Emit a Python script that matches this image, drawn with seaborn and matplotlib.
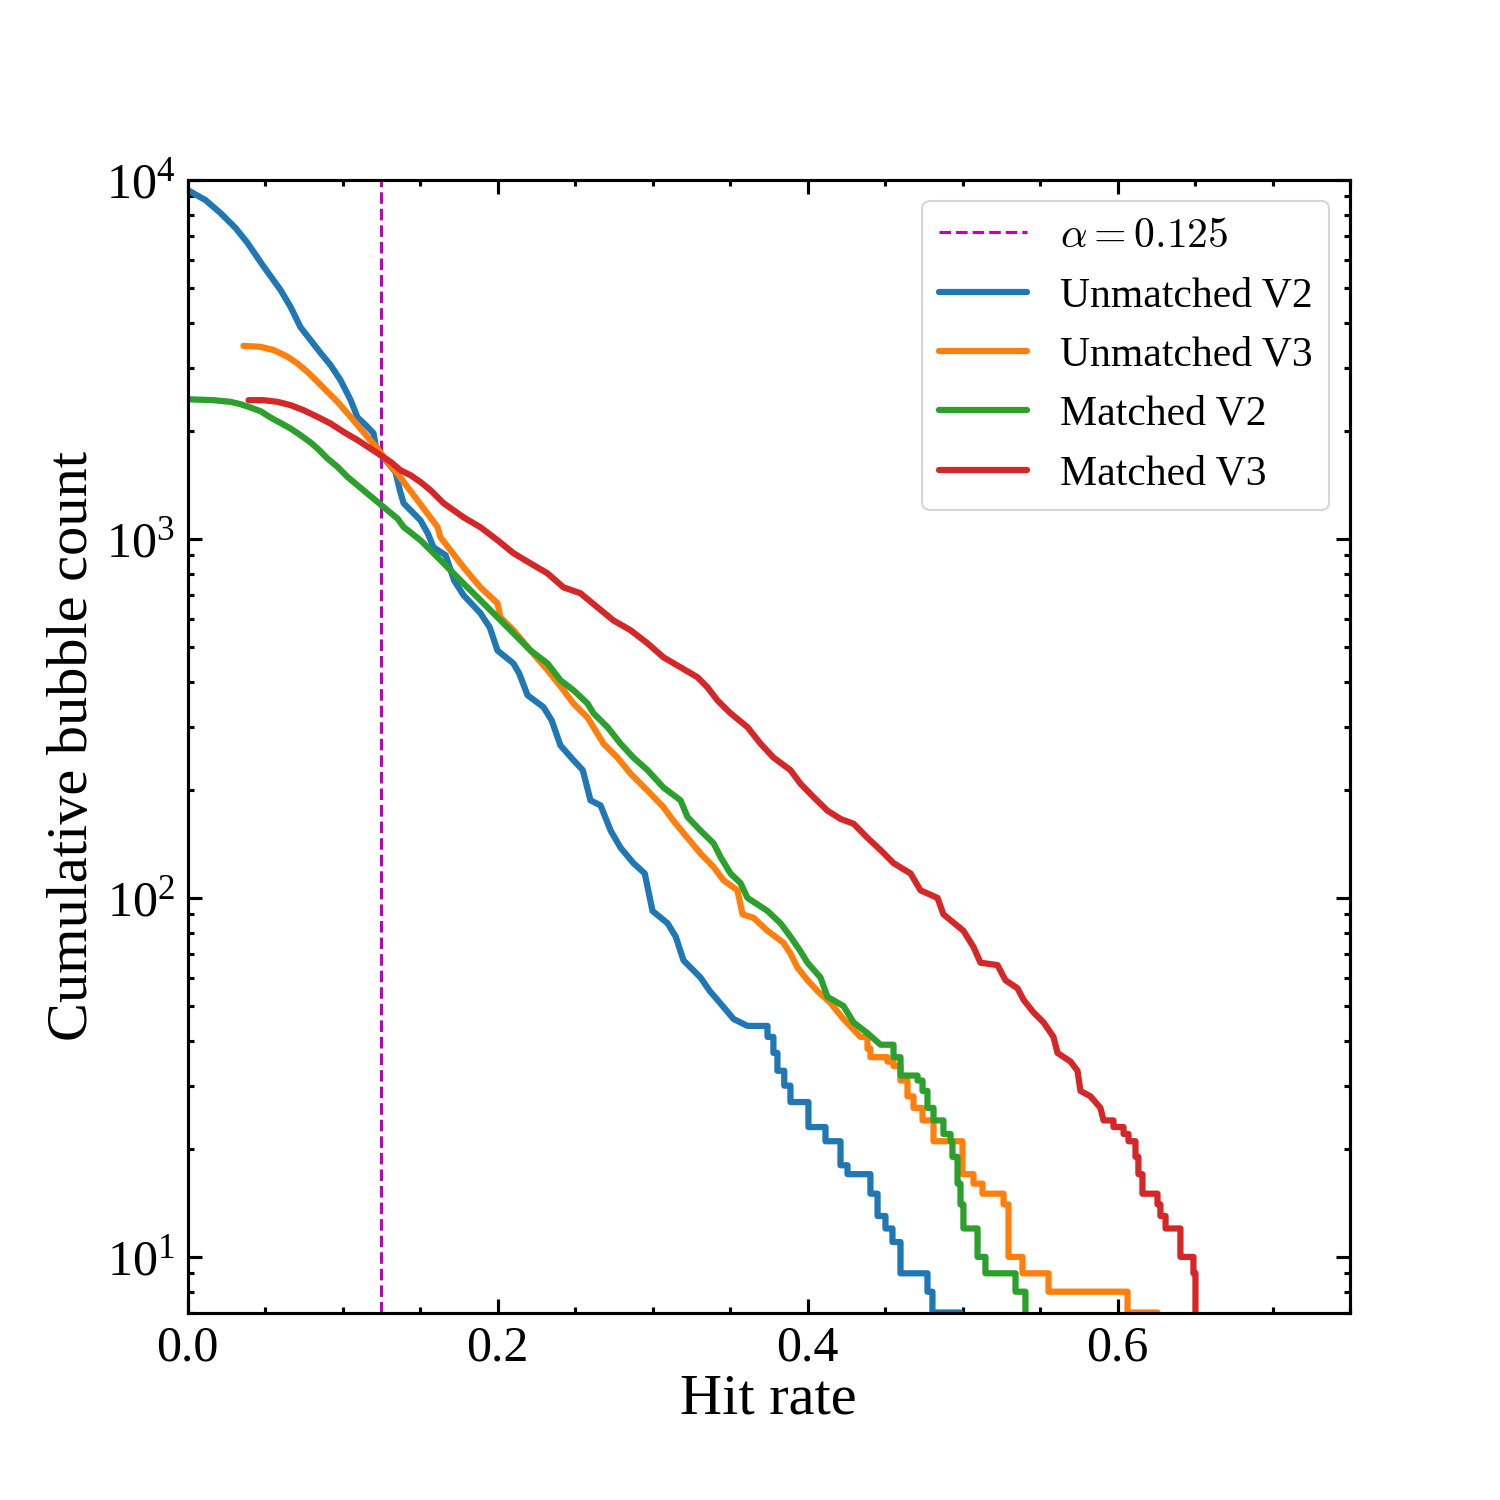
import numpy as np
import pandas as pd
import matplotlib
matplotlib.use("Agg")
import matplotlib.pyplot as plt
import seaborn as sns
from matplotlib.ticker import MultipleLocator, LogLocator, NullFormatter

# ---------------- data ----------------
alpha_value = 0.125

blue_x = [0.000, 0.0116, 0.0213, 0.031, 0.0387, 0.0484, 0.060, 0.0665, 0.0729, 0.0794, 0.0858, 0.0923,
          0.0987, 0.1052, 0.1097, 0.1148, 0.120, 0.1219, 0.1277, 0.1342, 0.137, 0.1394, 0.1503, 0.155,
          0.1587, 0.1665, 0.172, 0.1781, 0.189, 0.195, 0.200, 0.2103, 0.214, 0.2194, 0.2297, 0.235,
          0.2406, 0.249, 0.255, 0.260, 0.2665, 0.273, 0.2794, 0.2877, 0.295, 0.300, 0.3097, 0.315,
          0.320, 0.331, 0.337, 0.3419, 0.3523, 0.3613, 0.3742, 0.378, 0.3806, 0.385, 0.389, 0.4006,
          0.4116, 0.4213, 0.4258, 0.4406, 0.4452, 0.4503, 0.4548, 0.460, 0.4774, 0.4806, 0.4987]
blue_y = [9380, 8790, 8090, 7350, 6680, 5800, 4940, 4430, 3890, 3580, 3300, 3050,
          2770, 2440, 2180, 2080, 1970, 1770, 1660, 1535, 1367, 1258, 1127, 1037,
          948, 901, 767, 697, 621, 567, 489, 450, 422, 367, 340, 312,
          266, 242, 227, 187, 181, 154, 138, 125, 117, 92, 85, 78,
          67, 60, 55, 52, 46, 44, 41, 37, 33, 30, 27, 23,
          21, 18, 17, 15, 13, 12, 11, 9, 8, 7, 6]

orange_x = [0.0361, 0.0471, 0.0555, 0.0645, 0.071, 0.0774, 0.0839, 0.0903, 0.0968, 0.1032, 0.1097,
            0.1161, 0.1226, 0.129, 0.1355, 0.1419, 0.1484, 0.1548, 0.1613, 0.1632, 0.1697, 0.1781,
            0.189, 0.200, 0.2019, 0.2103, 0.2213, 0.2323, 0.2426, 0.249, 0.2581, 0.2684, 0.2774,
            0.2858, 0.2968, 0.3071, 0.3135, 0.3226, 0.331, 0.3394, 0.3458, 0.3548, 0.3581, 0.3652,
            0.3742, 0.3845, 0.389, 0.3935, 0.400, 0.4065, 0.4148, 0.4232, 0.4342, 0.4387, 0.4406,
            0.4516, 0.4555, 0.460, 0.4645, 0.4684, 0.4742, 0.4813, 0.500, 0.5071, 0.5129, 0.5265,
            0.5297, 0.5387, 0.5555, 0.6065, 0.6258]
orange_y = [3450, 3430, 3360, 3220, 3080, 2920, 2740, 2570, 2410, 2240, 2075,
            1925, 1786, 1640, 1521, 1396, 1282, 1177, 1080, 1011, 930, 834,
            733, 662, 605, 557, 489, 431, 379, 348, 318, 269, 246,
            222, 199, 179, 164, 147, 133, 122, 112, 105, 90, 88,
            81, 75, 70, 64, 59, 55, 51, 46, 41, 38, 36,
            35, 34, 31, 28, 26, 24, 21, 17, 16, 15, 14,
            10, 9, 8, 7, 6]

green_x = [0.0, 0.0168, 0.0277, 0.0342, 0.0406, 0.0471, 0.0535, 0.060, 0.0665, 0.0729, 0.0794,
           0.0839, 0.0903, 0.0968, 0.1032, 0.1097, 0.1161, 0.1226, 0.129, 0.1355, 0.1394, 0.1503,
           0.1587, 0.1697, 0.1806, 0.189, 0.200, 0.2103, 0.2213, 0.2323, 0.2406, 0.249, 0.2581,
           0.2619, 0.271, 0.2794, 0.2877, 0.2968, 0.3071, 0.3181, 0.3226, 0.331, 0.3394, 0.3439,
           0.3503, 0.3568, 0.3613, 0.3742, 0.3826, 0.389, 0.3955, 0.400, 0.4084, 0.4129, 0.4232,
           0.4297, 0.4387, 0.4471, 0.4555, 0.460, 0.471, 0.4742, 0.4774, 0.4813, 0.4877, 0.4923,
           0.4935, 0.4968, 0.4987, 0.5006, 0.5097, 0.5148, 0.5342, 0.5406]
green_y = [2450, 2436, 2410, 2374, 2324, 2270, 2180, 2105, 2031, 1946, 1857,
           1786, 1676, 1588, 1489, 1411, 1338, 1268, 1202, 1140, 1080, 992,
           913, 818, 733, 675, 605, 546, 489, 450, 404, 379, 348,
           327, 299, 269, 246, 227, 203, 187, 168, 154, 142, 130,
           117, 110, 100, 92, 85, 78, 71, 66, 60, 53, 50,
           45, 42, 39, 36, 32, 31, 29, 26, 24, 22, 21,
           19, 16, 14, 12, 10, 9, 8, 6]

red_x = [0.0394, 0.049, 0.0581, 0.0665, 0.0748, 0.0839, 0.0923, 0.1006, 0.1097, 0.1181, 0.1245,
         0.131, 0.1374, 0.1439, 0.1503, 0.1568, 0.1652, 0.1781, 0.189, 0.200, 0.2103, 0.2213,
         0.2323, 0.2426, 0.2535, 0.2645, 0.2748, 0.2858, 0.2968, 0.3071, 0.3181, 0.329, 0.3355,
         0.3419, 0.3503, 0.3613, 0.3697, 0.3781, 0.389, 0.3955, 0.4039, 0.4129, 0.4213, 0.4297,
         0.4387, 0.4471, 0.4555, 0.4665, 0.4729, 0.4839, 0.4877, 0.5006, 0.5071, 0.5116, 0.5226,
         0.5277, 0.5355, 0.5394, 0.5458, 0.5523, 0.5587, 0.5613, 0.5697, 0.5742, 0.5761, 0.5826,
         0.589, 0.591, 0.5974, 0.6039, 0.6071, 0.6116, 0.6135, 0.6161, 0.6258, 0.6277, 0.631,
         0.6406, 0.649, 0.6503]
red_y = [2436, 2436, 2410, 2359, 2285, 2188, 2097, 1988, 1885, 1786, 1712,
         1640, 1554, 1505, 1441, 1367, 1258, 1149, 1078, 992, 913, 855,
         802, 733, 706, 645, 593, 557, 512, 468, 439, 412, 386,
         355, 327, 299, 269, 246, 227, 208, 191, 175, 166, 161,
         147, 136, 125, 117, 105, 100, 90, 81, 73, 66, 65,
         59, 56, 52, 48, 45, 41, 37, 35, 33, 29, 28,
         26, 24, 23, 22, 21, 19, 17, 15, 14, 13, 12,
         10, 9, 6]

series_labels = ["Unmatched V2", "Unmatched V3", "Matched V2", "Matched V3"]

# ---------------- style ----------------
sns.set_theme(style="ticks", color_codes=False, rc={
    "axes.edgecolor": "black", "axes.labelcolor": "black", "text.color": "black",
    "xtick.color": "black", "ytick.color": "black", "axes.linewidth": 1.5,
})
plt.rcParams["font.family"] = ["Liberation Serif", "DejaVu Serif"]
plt.rcParams["mathtext.fontset"] = "stix"

colors = ["#1f77b4", "#ff7f0e", "#2ca02c", "#d62728"]
vline_color = "#bf00bf"
step_from = [0.37, 0.438, 0.455, 0.595]


def vertices(x, y, start_steps):
    vx, vy = [x[0]], [y[0]]
    for i in range(1, len(x)):
        if x[i] >= start_steps:
            vx.append(x[i]); vy.append(y[i - 1])
        vx.append(x[i]); vy.append(y[i])
    return vx, vy


fig, ax = plt.subplots(figsize=(10, 10), dpi=150)
fig.subplots_adjust(left=0.125, right=0.9, top=0.88, bottom=0.125)

ax.axvline(alpha_value, color=vline_color, ls="--", lw=1.5, label=r"$\alpha = 0.125$")

all_x = [blue_x, orange_x, green_x, red_x]
all_y = [blue_y, orange_y, green_y, red_y]
for xs, ys, lab, col, sf in zip(all_x, all_y, series_labels, colors, step_from):
    vx, vy = vertices(xs, ys, sf)
    df = pd.DataFrame({"hit": vx, "count": vy})
    sns.lineplot(data=df, x="hit", y="count", ax=ax, color=col, lw=3.0,
                 label=lab, estimator=None, sort=False)

ax.set_yscale("log")
ax.set_xlim(0, 0.75)
ax.set_ylim(7, 1e4)
ax.xaxis.set_major_locator(MultipleLocator(0.2))
ax.xaxis.set_minor_locator(MultipleLocator(0.05))
ax.yaxis.set_major_locator(LogLocator(base=10))
ax.yaxis.set_minor_locator(LogLocator(base=10, subs=np.arange(2, 10)))
ax.yaxis.set_minor_formatter(NullFormatter())
ax.xaxis.set_major_formatter(matplotlib.ticker.FormatStrFormatter("%.1f"))

ax.tick_params(which="both", direction="in", top=True, right=True, width=1.5,
               labelsize=24, pad=6)
ax.tick_params(which="major", length=6.5)
ax.tick_params(which="minor", length=3)

ax.set_xlabel("Hit rate", fontsize=28, labelpad=1)
ax.set_ylabel("Cumulative bubble count", fontsize=28, labelpad=3)

leg = ax.legend(loc="upper right", fontsize=20, frameon=True, fancybox=True,
                edgecolor="0.8", framealpha=0.8, handlelength=2.1)
leg.get_texts()[0].set_math_fontfamily("cm")
for t in leg.get_texts():
    t.set_color("black")

fig.savefig("out.png", dpi=150)
